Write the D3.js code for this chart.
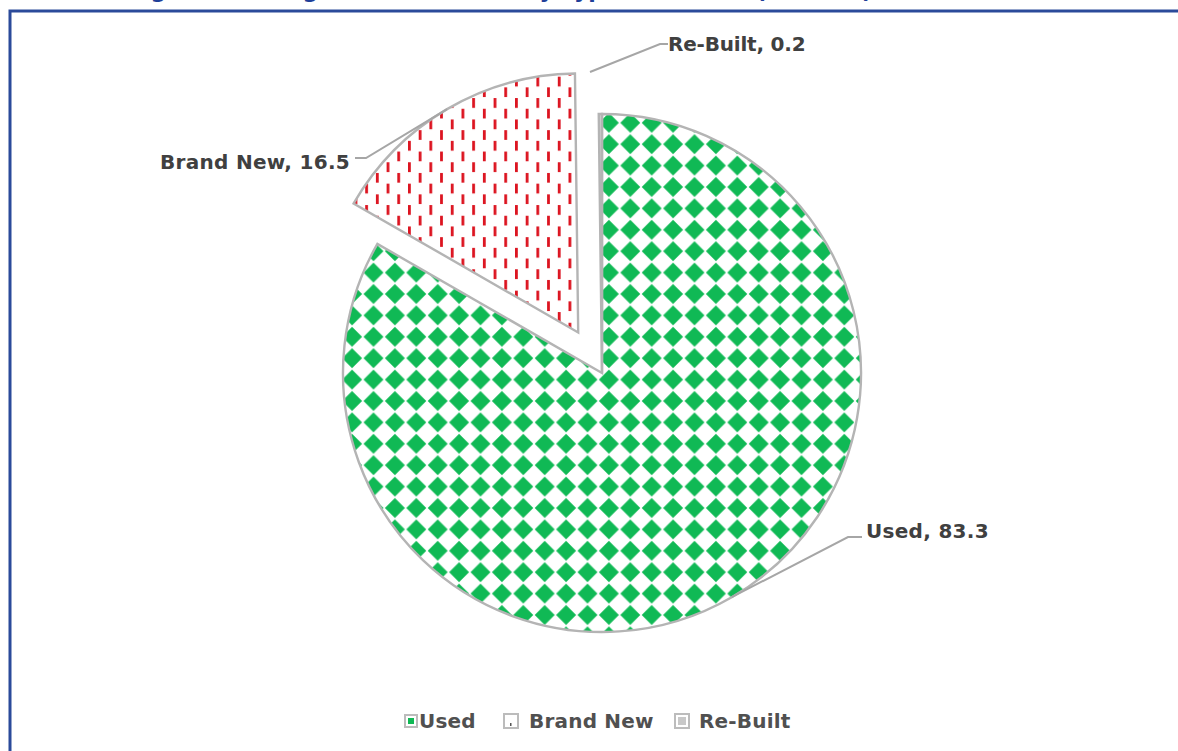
<!DOCTYPE html>
<html>
<head>
<meta charset="utf-8">
<script src="https://cdn.jsdelivr.net/npm/d3@7"></script>
<style>
  html, body { margin: 0; padding: 0; background: #fff; }
  svg { display: block; }
</style>
</head>
<body>
<svg id="chart" width="1178" height="751"></svg>
<script>
// ---------- data ----------
const categories = ["Used", "Brand New", "Re-Built"];
const values = [83.3, 16.5, 0.2];
const valueLabels = ["83.3", "16.5", "0.2"];
const titleText = "Figure 3.4: Registered Vehicles by Type of Vehicle (Percent)";

// ---------- layout / style ----------
const W = 1178, H = 751;
const cx = 602, cy = 373, R = 259;
const explodeDist = [0, 47, 0];
const fontFam = "'DejaVu Sans', 'Noto Sans', sans-serif";
const textColor = "#404040";
const strokeColor = "#b4b4b4";
const green = "#10b955";
const red = "#dc1420";

// label layout: elbow and end of leader, text position
const labelLayout = [
  { elbow: [848, 537], end: [862, 537], anchor: "start", tx: 866, ty: 531, ls: 0.3 },
  { elbow: [366, 158], end: [355, 158], anchor: "end", tx: 350, ty: 162, ls: 0.3 },
  { start: [590, 72], elbow: [660, 44], end: [668, 44], anchor: "start", tx: 668, ty: 44, ls: -0.2 }
];

const svg = d3.select("#chart");
svg.append("rect").attr("width", W).attr("height", H).attr("fill", "#fff");

// ---------- patterns ----------
const defs = svg.append("defs");
const s = 21.4;
const pDiamond = defs.append("pattern")
  .attr("id", "pUsed").attr("patternUnits", "userSpaceOnUse")
  .attr("width", s).attr("height", s)
  .attr("x", 627.5 - s / 2).attr("y", 135 - s / 2);
pDiamond.append("rect").attr("width", s).attr("height", s).attr("fill", "#fff");
const h = s / 2, k = 10.0;
pDiamond.append("path")
  .attr("d", `M${h},${h - k} L${h + k},${h} L${h},${h + k} L${h - k},${h} Z`)
  .attr("fill", green);

const pDash = defs.append("pattern")
  .attr("id", "pNew").attr("patternUnits", "userSpaceOnUse")
  .attr("width", s).attr("height", s)
  .attr("x", 536).attr("y", 0);
pDash.append("rect").attr("width", s).attr("height", s).attr("fill", "#fff");
pDash.append("rect").attr("x", 0).attr("y", 1).attr("width", 2.8).attr("height", 9.8).attr("fill", red);
pDash.append("rect").attr("x", s / 2).attr("y", s / 2 + 1).attr("width", 2.8).attr("height", 9.8).attr("fill", red);

const fills = ["url(#pUsed)", "url(#pNew)", "#d0d0d0"];

// ---------- frame & title (title cut off at the top, as in the source) ----------
svg.append("text")
  .attr("x", 500).attr("y", -2)
  .attr("text-anchor", "middle")
  .attr("font-family", fontFam).attr("font-weight", "bold")
  .attr("font-size", 22).attr("fill", "#1f3f99")
  .text(titleText);

svg.append("path")
  .attr("d", `M${W},11 L10,11 L10,${H}`)
  .attr("fill", "none").attr("stroke", "#2b4a9a").attr("stroke-width", 3);

// ---------- pie ----------
const pie = d3.pie().sort(null).value(d => d).startAngle(0).endAngle(2 * Math.PI);
const arcs = pie(values);
const arcGen = d3.arc().innerRadius(0).outerRadius(R);

const g = svg.append("g");
arcs.forEach((a, i) => {
  const mid = (a.startAngle + a.endAngle) / 2;
  const dx = explodeDist[i] * Math.sin(mid);
  const dy = -explodeDist[i] * Math.cos(mid);
  a.ox = cx + dx; a.oy = cy + dy; a.mid = mid;
  g.append("path")
    .attr("d", arcGen(a))
    .attr("transform", `translate(${a.ox},${a.oy})`)
    .attr("fill", fills[i])
    .attr("stroke", strokeColor)
    .attr("stroke-width", 2.4)
    .attr("stroke-linejoin", "miter");
});

// ---------- labels ----------
arcs.forEach((a, i) => {
  const L = labelLayout[i];
  const start = L.start ? L.start : [a.ox + R * Math.sin(a.mid), a.oy - R * Math.cos(a.mid)];
  svg.append("polyline")
    .attr("points", [start, L.elbow, L.end].map(p => p.join(",")).join(" "))
    .attr("fill", "none").attr("stroke", "#a6a6a6").attr("stroke-width", 2);
  svg.append("text")
    .attr("x", L.tx).attr("y", L.ty)
    .attr("dy", "0.36em")
    .attr("text-anchor", L.anchor)
    .attr("font-family", fontFam).attr("font-weight", "bold")
    .attr("font-size", 20).attr("letter-spacing", L.ls).attr("fill", textColor)
    .text(`${categories[i]}, ${valueLabels[i]}`);
});

// ---------- legend ----------
const legendItems = [
  { sx: 405, tx: 419 },
  { sx: 504, tx: 529 },
  { sx: 675, tx: 699 }
];
const ly = 721;
const swatchInner = [green, "#fff", "#c8c8c8"];
legendItems.forEach((it, i) => {
  const sz = i === 0 ? 12 : 14;
  svg.append("rect")
    .attr("x", it.sx).attr("y", ly - sz / 2).attr("width", sz).attr("height", sz)
    .attr("fill", "#fff").attr("stroke", "#bcbcbc").attr("stroke-width", 2);
  if (i === 1) {
    svg.append("rect").attr("x", it.sx + 6).attr("y", ly + 2).attr("width", 1.5).attr("height", 3).attr("fill", "#555");
  } else {
    svg.append("rect")
      .attr("x", it.sx + 3).attr("y", ly - sz / 2 + 3).attr("width", sz - 6).attr("height", sz - 6)
      .attr("fill", swatchInner[i]);
  }
  svg.append("text")
    .attr("x", it.tx).attr("y", ly).attr("dy", "0.36em")
    .attr("font-family", fontFam).attr("font-weight", "bold")
    .attr("font-size", 20).attr("letter-spacing", 0.2).attr("fill", "#505050")
    .text(categories[i]);
});
</script>
</body>
</html>
